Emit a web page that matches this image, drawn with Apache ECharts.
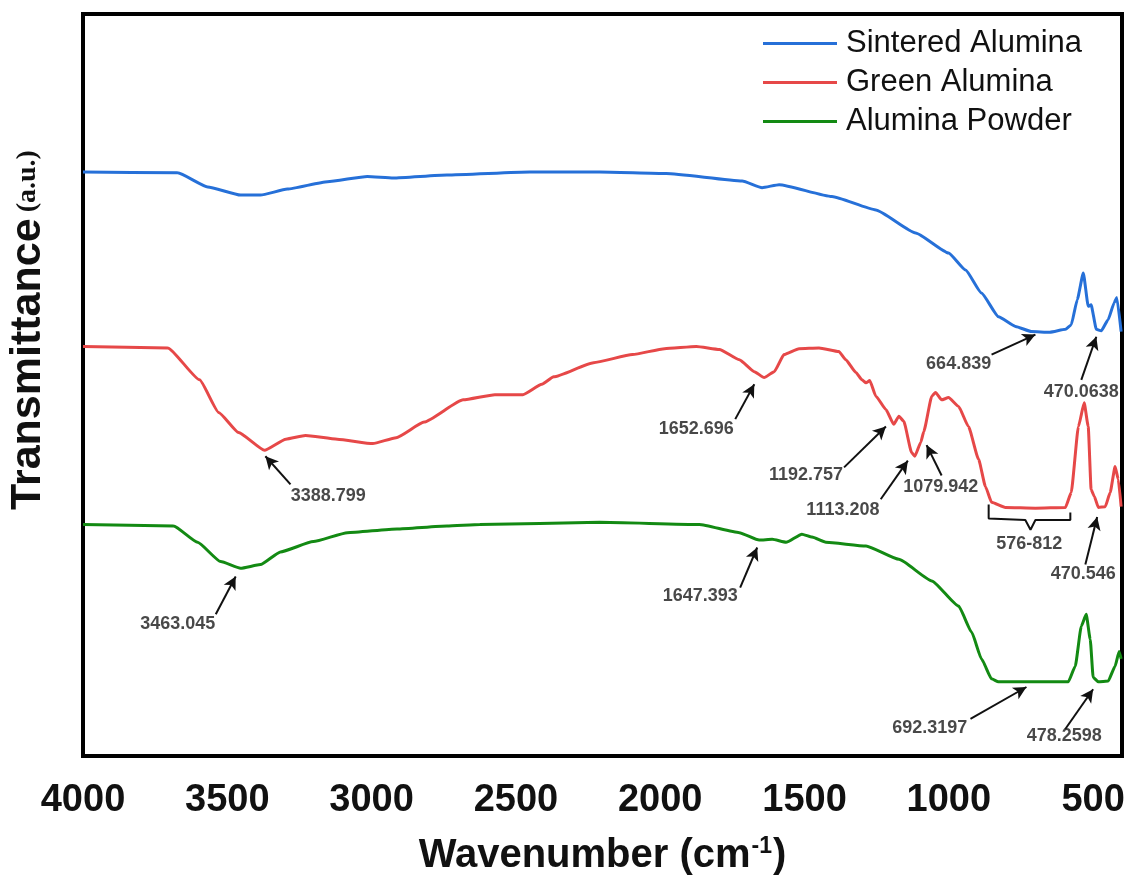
<!DOCTYPE html>
<html><head><meta charset="utf-8">
<script src="https://cdn.jsdelivr.net/npm/echarts@6/dist/echarts.min.js"></script>
<style>html,body{margin:0;padding:0;background:#fff}#c{width:1127px;height:876px}</style>
</head><body><div id="c"></div>
<script>
// ---- data (wavenumber in cm-1, transmittance in arbitrary units) ----
const xTicks = [4000, 3500, 3000, 2500, 2000, 1500, 1000, 500];
const seriesNames = ['Sintered Alumina', 'Green Alumina', 'Alumina Powder'];

const sinteredWn = [4000,3672,3568,3454,3385,3292,3153,3015,2925,2739,2452,2210,1979,1716,1647,1588,1405,1253,1115,1001,942,887,828,769,714,650,596,576,555,534,517,507,489,472,448,427,418,403];
const sinteredT  = [78.7,78.6,76.7,75.6,75.6,76.4,77.4,78.1,77.9,78.3,78.7,78.7,78.5,77.5,76.6,77.0,75.4,73.6,70.5,67.8,65.5,62.4,59.2,57.9,57.2,57.1,57.5,58.1,61.5,65.1,60.6,60.8,57.5,57.3,58.8,61.1,61.8,57.2];

const greenAlWn = [4000,3706,3596,3530,3461,3371,3297,3229,3119,2996,2915,2818,2683,2573,2476,2410,2369,2231,2096,1985,1875,1795,1726,1674,1640,1605,1571,1519,1450,1381,1357,1322,1301,1287,1274,1253,1218,1191,1173,1156,1129,1118,1097,1087,1059,1046,1025,1001,966,932,897,873,852,804,700,596,576,551,531,517,507,496,482,458,441,424,413,403];
const greenAlT  = [55.2,55.0,50.7,46.3,43.6,41.2,42.7,43.2,42.7,42.1,42.9,45.0,48.0,48.7,48.7,50.1,51.1,53.0,54.1,54.9,55.2,54.8,53.4,51.8,51.0,51.8,54.1,54.9,55.0,54.5,53.4,51.7,50.7,50.3,50.6,48.5,46.7,44.7,45.8,45.1,40.9,40.4,42.3,43.7,48.5,49.0,48.0,48.3,47.1,44.4,40.0,36.3,34.2,33.5,33.4,33.5,35.5,44.4,47.6,44.4,35.9,35.0,33.5,33.6,35.5,39.0,37.3,33.6];

const powderWn = [4000,3686,3603,3523,3454,3385,3316,3202,3084,2912,2739,2625,2210,1865,1726,1657,1612,1564,1509,1474,1426,1287,1173,1059,966,921,887,852,828,700,586,562,541,524,510,500,482,448,424,410,403];
const powderT  = [31.2,31.0,28.8,26.2,25.3,25.8,27.5,28.9,30.1,30.6,31.0,31.2,31.5,31.2,30.1,29.1,29.2,28.8,29.9,29.5,28.8,28.3,26.5,23.6,20.2,16.7,13.1,10.4,10.0,10.0,10.0,12.1,17.5,19.1,15.7,10.6,10.0,10.1,12.1,14.1,13.1];

// ---- annotations (in data coordinates) ----
const annText = ['664.839','470.0638','1652.696','1192.757','1113.208','1079.942','576-812','470.546','3388.799','3463.045','1647.393','692.3197','478.2598'];
const annLabelAt = [[966,52.8],[541,49.1],[1875,44.1],[1495,37.8],[1367,33.2],[1028,36.2],[721,28.5],[534,24.5],[3150,35.0],[3672,17.8],[1861,21.5],[1066,3.8],[600,2.7]];
const annArrows = [
  [[852,54.1],[700,56.8]],
  [[541,50.7],[489,56.5]],
  [[1740,45.4],[1674,50.1]],
  [[1363,38.9],[1218,44.4]],
  [[1236,34.6],[1142,39.8]],
  [[1025,37.8],[1077,41.9]],
  [[527,25.8],[486,32.2]],
  [[3281,36.6],[3368,40.4]],
  [[3540,19.1],[3471,24.2]],
  [[1723,22.7],[1664,28.1]],
  [[925,5.0],[731,9.3]],
  [[597,3.6],[500,9.0]]
];
const bracePts = [[862,33.9],[862,32.0],[735,31.8],[717,30.5],[700,31.8],[579,31.8],[579,32.8]];

const pairs = (xs, ys) => xs.map((x, i) => [x, ys[i]]);
const FONT = 'Arial, "Liberation Sans", sans-serif';

const chart = echarts.init(document.getElementById('c'), null, {renderer: 'canvas'});
const lineBase = {type: 'line', showSymbol: false, smooth: 0.15, smoothMonotone: 'x', animation: false, z: 3};

chart.setOption({
  backgroundColor: '#fff',
  animation: false,
  grid: {left: 83, right: 5, top: 14, bottom: 120, containLabel: false, outerBoundsMode: 'none',
         show: true, borderColor: '#000', borderWidth: 4, backgroundColor: 'transparent'},
  legend: {
    data: seriesNames, orient: 'vertical', left: 758, top: 23,
    icon: 'rect', itemWidth: 74, itemHeight: 3, itemGap: 8,
    textStyle: {fontSize: 31, fontFamily: FONT, color: '#111', padding: [0, 0, 0, 4]}
  },
  xAxis: {
    type: 'value', inverse: true, min: 400, max: 4000, interval: 100,
    axisLine: {show: false}, axisTick: {show: false}, splitLine: {show: false},
    axisLabel: {
      fontSize: 38, fontWeight: 'bold', color: '#111', fontFamily: FONT, margin: 26,
      showMinLabel: false,
      formatter: v => (xTicks.indexOf(v) >= 0 ? String(v) : '')
    },
    name: '{a|Wavenumber (cm}{s|-1}{a|)}', nameLocation: 'middle', nameGap: 79,
    nameTextStyle: {
      rich: {
        a: {fontSize: 40, fontWeight: 'bold', color: '#111', fontFamily: FONT, lineHeight: 42},
        s: {fontSize: 23, fontWeight: 'bold', color: '#111', fontFamily: FONT, lineHeight: 23, padding: [0, 1, 19, 1]}
      }
    }
  },
  yAxis: {
    type: 'value', min: 0, max: 100,
    axisLine: {show: false}, axisTick: {show: false}, splitLine: {show: false}, axisLabel: {show: false}
  },
  graphic: [{
    type: 'text', x: 28, y: 330, rotation: Math.PI / 2, z: 10,
    style: {
      text: '{t|Transmittance}{g| }{u|(a.u.)}',
      align: 'center', verticalAlign: 'middle',
      rich: {
        t: {fontSize: 43, fontWeight: 'bold', fontFamily: FONT, fill: '#111'},
        g: {fontSize: 22, fontFamily: FONT},
        u: {fontSize: 28, fontWeight: 'bold', fontFamily: '"Liberation Serif", "Times New Roman", serif', fill: '#111'}
      }
    }
  }],
  series: [
    Object.assign({}, lineBase, {name: seriesNames[0], data: pairs(sinteredWn, sinteredT), color: '#2670d8', lineStyle: {width: 3, color: '#2670d8'}}),
    Object.assign({}, lineBase, {name: seriesNames[1], data: pairs(greenAlWn, greenAlT), color: '#e64848', lineStyle: {width: 3, color: '#e64848'}}),
    Object.assign({}, lineBase, {name: seriesNames[2], data: pairs(powderWn, powderT), color: '#138a13', lineStyle: {width: 3, color: '#138a13'}}),
    {
      name: 'brace', type: 'line', data: bracePts, showSymbol: false, smooth: false, silent: true,
      lineStyle: {width: 2, color: '#111'}, z: 4
    },
    {
      name: 'annotations', type: 'scatter', silent: true, z: 5,
      symbolSize: 1, itemStyle: {color: 'rgba(0,0,0,0)'},
      data: annText.map((t, i) => ({name: t, value: annLabelAt[i]})),
      label: {show: true, position: 'inside', formatter: p => p.name, fontSize: 18, fontWeight: 'bold', color: '#1a1a1a', fontFamily: FONT},
      markLine: {
        silent: true, animation: false,
        symbol: ['none', 'arrow'], symbolSize: [10, 13],
        lineStyle: {color: '#111', width: 2, type: 'solid'},
        label: {show: false},
        data: annArrows.map(a => [{coord: a[0]}, {coord: a[1]}])
      }
    }
  ]
});
</script>
</body></html>
